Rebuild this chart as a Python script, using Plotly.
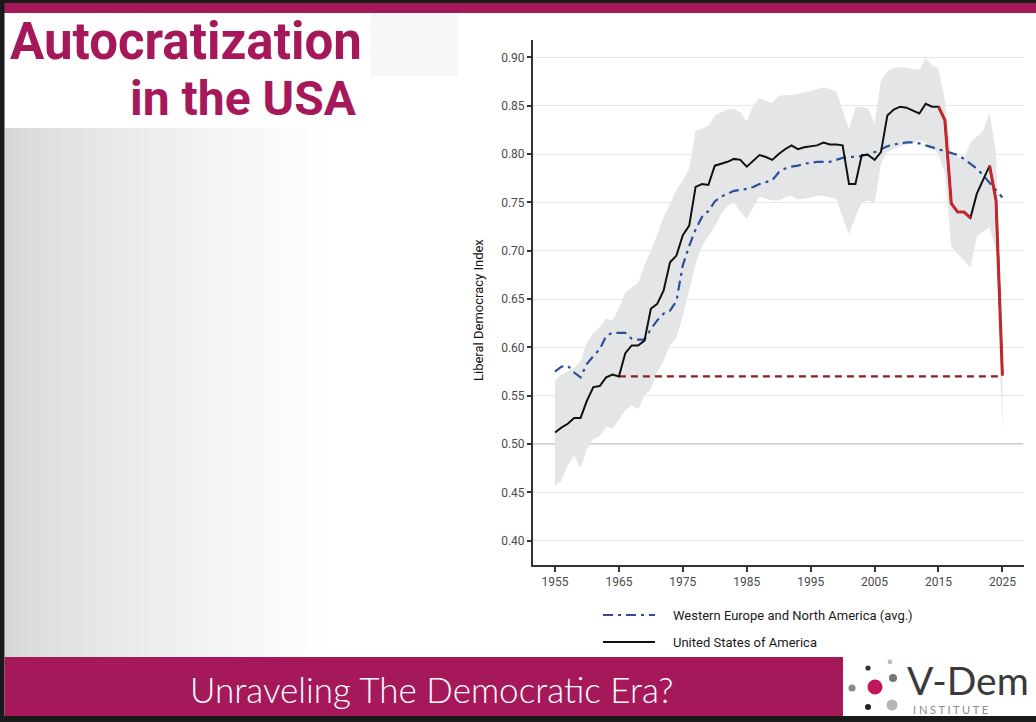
import plotly.graph_objects as go

W, H = 1036, 722

# ---------------- data ----------------
years = list(range(1955, 2026))

usa = [0.512, 0.517, 0.521, 0.527, 0.527, 0.545, 0.559, 0.560, 0.569, 0.572,
       0.570, 0.594, 0.602, 0.602, 0.607, 0.640, 0.645, 0.659, 0.688, 0.695,
       0.716, 0.726, 0.766, 0.769, 0.768, 0.788, 0.790, 0.792, 0.795, 0.794,
       0.787, 0.793, 0.799, 0.797, 0.794, 0.800, 0.805, 0.809, 0.805, 0.807,
       0.808, 0.809, 0.812, 0.810, 0.810, 0.809, 0.769, 0.769, 0.799, 0.799,
       0.794, 0.802, 0.840, 0.846, 0.849, 0.848, 0.845, 0.842, 0.852, 0.849,
       0.849, 0.835, 0.749, 0.740, 0.740, 0.734, 0.759, 0.773, 0.788, 0.752,
       0.571]

wena = [0.575, 0.580, 0.581, 0.574, 0.569, 0.583, 0.591, 0.598, 0.612, 0.615,
        0.615, 0.615, 0.609, 0.608, 0.608, 0.619, 0.628, 0.635, 0.638, 0.648,
        0.685, 0.705, 0.722, 0.735, 0.741, 0.751, 0.756, 0.759, 0.762, 0.763,
        0.764, 0.766, 0.769, 0.771, 0.773, 0.781, 0.785, 0.787, 0.788, 0.790,
        0.791, 0.792, 0.792, 0.792, 0.794, 0.796, 0.797, 0.797, 0.798, 0.800,
        0.802, 0.805, 0.808, 0.810, 0.811, 0.812, 0.812, 0.811, 0.809, 0.807,
        0.805, 0.803, 0.801, 0.799, 0.795, 0.790, 0.785, 0.778, 0.770, 0.762,
        0.755]

usa_lo = [0.457, 0.462, 0.478, 0.488, 0.475, 0.495, 0.505, 0.508, 0.518, 0.516,
          0.525, 0.535, 0.540, 0.536, 0.550, 0.557, 0.575, 0.586, 0.603, 0.610,
          0.633, 0.658, 0.686, 0.705, 0.715, 0.725, 0.738, 0.746, 0.750, 0.740,
          0.733, 0.745, 0.756, 0.754, 0.752, 0.752, 0.755, 0.757, 0.753, 0.754,
          0.755, 0.757, 0.757, 0.755, 0.754, 0.735, 0.717, 0.735, 0.750, 0.752,
          0.749, 0.790, 0.802, 0.805, 0.808, 0.810, 0.812, 0.814, 0.812, 0.806,
          0.800, 0.780, 0.704, 0.697, 0.690, 0.683, 0.715, 0.720, 0.724, 0.700,
          0.514]

usa_hi = [0.566, 0.572, 0.575, 0.579, 0.586, 0.605, 0.615, 0.621, 0.630, 0.628,
          0.640, 0.657, 0.662, 0.667, 0.685, 0.700, 0.717, 0.735, 0.748, 0.763,
          0.773, 0.785, 0.824, 0.826, 0.829, 0.840, 0.843, 0.846, 0.847, 0.843,
          0.834, 0.850, 0.858, 0.855, 0.853, 0.860, 0.861, 0.861, 0.862, 0.864,
          0.865, 0.867, 0.869, 0.867, 0.865, 0.845, 0.826, 0.848, 0.849, 0.847,
          0.832, 0.876, 0.886, 0.889, 0.890, 0.889, 0.888, 0.887, 0.899, 0.892,
          0.888, 0.855, 0.800, 0.797, 0.795, 0.812, 0.818, 0.824, 0.843, 0.800,
          0.600]

decline_periods = [(2015, 2020), (2023, 2025)]
ref_years = [1965, 2025]
ref_level = [0.57, 0.57]
threshold = 0.50

x_ticks = [1955, 1965, 1975, 1985, 1995, 2005, 2015, 2025]
y_ticks = [0.40, 0.45, 0.50, 0.55, 0.60, 0.65, 0.70, 0.75, 0.80, 0.85, 0.90]

title_line1 = "Autocratization"
title_line2 = "in the USA"
footer_text = "Unraveling The Democratic Era?"
legend_labels = ["Western Europe and North America (avg.)", "United States of America"]
y_title = "Liberal Democracy Index"
logo_name = "V-Dem"
logo_sub = "I N S T I T U T E"

# ---------------- styles ----------------
MAGENTA = "#a5195b"
NARROW = "Roboto, Liberation Sans Narrow, sans-serif"
BLUE = "#2b4f9a"
RED = "#c1272d"
DARKRED = "#8c1f1f"
BAND = "#e4e5e7"
WENA_DASH = "10px,5px,3px,5px"


def px(x):
    return x / W


def py(y):
    return 1 - y / H


fig = go.Figure()

# confidence band
fig.add_trace(go.Scatter(x=years, y=usa_lo, mode="lines", line=dict(width=0),
                         hoverinfo="skip", showlegend=False))
fig.add_trace(go.Scatter(x=years, y=usa_hi, mode="lines", line=dict(width=0),
                         fill="tonexty", fillcolor=BAND, hoverinfo="skip",
                         showlegend=False))

# reference dashed line
fig.add_trace(go.Scatter(x=ref_years, y=ref_level, mode="lines",
                         line=dict(color=DARKRED, width=2.2, dash="7px,5px"),
                         showlegend=False))

# WENA average
fig.add_trace(go.Scatter(x=years, y=wena, mode="lines",
                         line=dict(color=BLUE, width=2.2, dash=WENA_DASH),
                         name=legend_labels[0], showlegend=False))

# USA
fig.add_trace(go.Scatter(x=years, y=usa, mode="lines",
                         line=dict(color="#111111", width=2),
                         name=legend_labels[1], showlegend=False))

# decline episodes in red
for a, b in decline_periods:
    xs = [yr for yr in years if a <= yr <= b]
    ys = [v for yr, v in zip(years, usa) if a <= yr <= b]
    fig.add_trace(go.Scatter(x=xs, y=ys, mode="lines",
                             line=dict(color=RED, width=3),
                             showlegend=False))

shapes = []

# ---- page decoration ----
# left gradient panel
n = 40
x0, x1 = 5, 330
for i in range(n):
    t = i / (n - 1)
    c = int(214 + (255 - 214) * (t ** 0.7))
    col = f"rgb({c},{c},{c})"
    shapes.append(dict(type="rect", xref="paper", yref="paper",
                       x0=px(x0 + (x1 - x0) * i / n), x1=px(x0 + (x1 - x0) * (i + 1) / n + 0.5),
                       y0=py(657), y1=py(128), fillcolor=col, line=dict(width=0),
                       layer="below"))
# faint box right of title
shapes.append(dict(type="rect", xref="paper", yref="paper", x0=px(370), x1=px(458),
                   y0=py(76), y1=py(13), fillcolor="#f7f7f7", line=dict(width=0), layer="below"))
# top bars
shapes.append(dict(type="rect", xref="paper", yref="paper", x0=0, x1=1,
                   y0=py(13), y1=py(3), fillcolor=MAGENTA, line=dict(width=0)))
shapes.append(dict(type="rect", xref="paper", yref="paper", x0=0, x1=1,
                   y0=py(3), y1=1, fillcolor="#1a1a1a", line=dict(width=0)))
# left border
shapes.append(dict(type="rect", xref="paper", yref="paper", x0=0, x1=px(4.5),
                   y0=0, y1=1, fillcolor="#1a1a1a", line=dict(width=0)))
# footer band
shapes.append(dict(type="rect", xref="paper", yref="paper", x0=px(4.5), x1=px(843),
                   y0=py(716), y1=py(657), fillcolor=MAGENTA, line=dict(width=0)))
# bottom border
shapes.append(dict(type="rect", xref="paper", yref="paper", x0=0, x1=1,
                   y0=0, y1=py(716), fillcolor="#1a1a1a", line=dict(width=0)))

# logo dots (cx, cy, r, color)
dots = [(875, 687, 7.5, "#c2185b"), (868, 668, 2.6, "#333333"), (890, 662, 2.4, "#bdbdbd"),
        (893, 678, 4.0, "#777777"), (852, 688, 3.6, "#8a8a8a"), (868, 707, 3.0, "#222222"),
        (892, 705, 5.5, "#b5b5b5")]
for cx, cy, r, colr in dots:
    shapes.append(dict(type="circle", xref="paper", yref="paper",
                       x0=px(cx - r), x1=px(cx + r), y0=py(cy + r), y1=py(cy - r),
                       fillcolor=colr, line=dict(width=0)))

# threshold line
shapes.append(dict(type="line", xref="paper", yref="y", x0=px(533), x1=px(1023),
                   y0=threshold, y1=threshold, line=dict(color="#9a9a9a", width=1.2),
                   layer="below"))

# legend symbols
shapes.append(dict(type="line", xref="paper", yref="paper", x0=px(603), x1=px(655),
                   y0=py(615), y1=py(615), line=dict(color=BLUE, width=2.2, dash=WENA_DASH)))
shapes.append(dict(type="line", xref="paper", yref="paper", x0=px(603), x1=px(655),
                   y0=py(642), y1=py(642), line=dict(color="#111111", width=2)))

annotations = [
    dict(text=f"<b>{title_line1}</b>", xref="paper", yref="paper", x=px(8), y=py(41),
         xanchor="left", yanchor="middle", showarrow=False,
         font=dict(family="Roboto, Open Sans, sans-serif", size=51, color=MAGENTA)),
    dict(text=f"<b>{title_line2}</b>", xref="paper", yref="paper", x=px(359), y=py(98),
         xanchor="right", yanchor="middle", showarrow=False,
         font=dict(family="Roboto, Open Sans, sans-serif", size=48, color=MAGENTA)),
    dict(text=footer_text, xref="paper", yref="paper", x=px(431), y=py(689),
         xanchor="center", yanchor="middle", showarrow=False,
         font=dict(family="Lato, Open Sans, sans-serif", size=35, color="#ffffff", weight=300)),
    dict(text=logo_name, xref="paper", yref="paper", x=px(905), y=py(680),
         xanchor="left", yanchor="middle", showarrow=False,
         font=dict(family="Lato, DejaVu Sans, sans-serif", size=39, color="#3a3a3a")),
    dict(text=logo_sub, xref="paper", yref="paper", x=px(911), y=py(709),
         xanchor="left", yanchor="middle", showarrow=False,
         font=dict(family="Lato, DejaVu Sans, sans-serif", size=11, color="#8a8a8a")),
    dict(text=y_title, xref="paper", yref="paper", x=px(478), y=py(310),
         xanchor="center", yanchor="middle", textangle=-90, showarrow=False,
         font=dict(family=NARROW, size=13, color="#111111")),
    dict(text=legend_labels[0], xref="paper", yref="paper", x=px(671), y=py(615),
         xanchor="left", yanchor="middle", showarrow=False,
         font=dict(family=NARROW, size=13, color="#1a1a1a")),
    dict(text=legend_labels[1], xref="paper", yref="paper", x=px(671), y=py(642),
         xanchor="left", yanchor="middle", showarrow=False,
         font=dict(family=NARROW, size=13, color="#1a1a1a")),
]

fig.update_layout(
    width=W, height=H,
    margin=dict(l=0, r=0, t=0, b=0),
    paper_bgcolor="#ffffff", plot_bgcolor="#ffffff",
    showlegend=False,
    shapes=shapes,
    annotations=annotations,
    xaxis=dict(domain=[px(533), px(1023.5)], range=[1951.56, 2028.3],
               tickvals=x_ticks, ticks="outside", ticklen=5, tickwidth=1.5,
               tickcolor="#333333", showgrid=False, zeroline=False,
               showline=True, linecolor="#333333", linewidth=2,
               tickfont=dict(family=NARROW, size=12, color="#4a4a4a")),
    yaxis=dict(domain=[py(565), py(40)], range=[0.3749, 0.918],
               tickvals=y_ticks, tickformat=".2f", ticks="outside", ticklen=4,
               tickwidth=1.5, tickcolor="#333333", showgrid=True,
               gridcolor="#e6e6e6", gridwidth=1.2, zeroline=False,
               showline=True, linecolor="#333333", linewidth=2,
               tickfont=dict(family=NARROW, size=12, color="#4a4a4a")),
)

fig.write_html("out.html", config={"displayModeBar": False},
               post_script="document.body.style.margin='0';document.body.style.overflow='hidden';")
